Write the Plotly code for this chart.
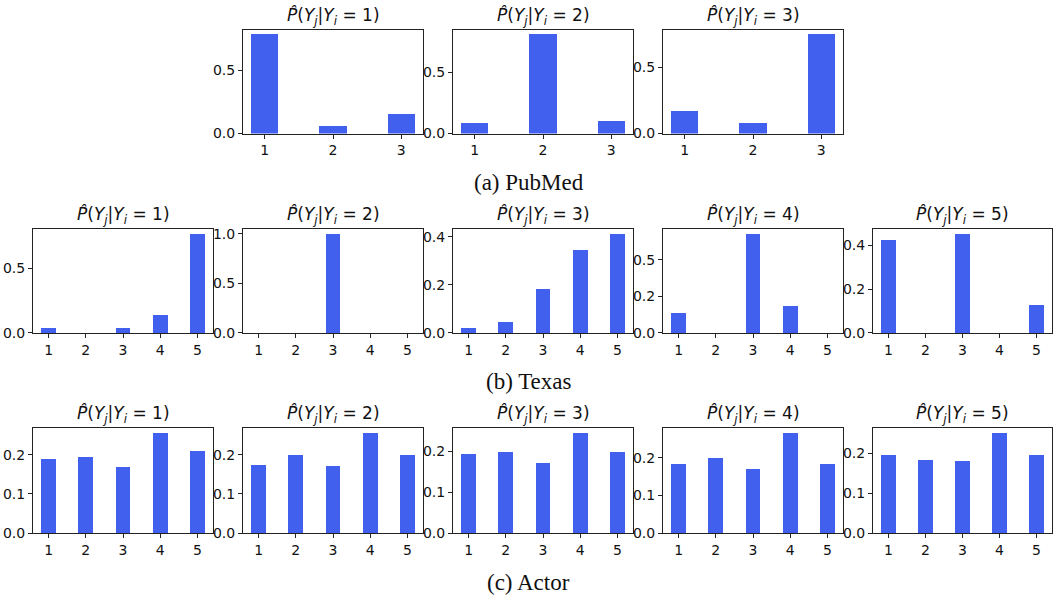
import plotly.graph_objects as go

# ---- data ----
pubmed_classes = [1, 2, 3]
pubmed_rows = [
    [0.785, 0.060, 0.155],
    [0.087, 0.810, 0.103],
    [0.174, 0.078, 0.748],
]
texas_classes = [1, 2, 3, 4, 5]
texas_rows = [
    [0.038, 0.0, 0.038, 0.135, 0.769],
    [0.0, 0.0, 1.0, 0.0, 0.0],
    [0.020, 0.045, 0.184, 0.343, 0.412],
    [0.134, 0.0, 0.679, 0.182, 0.0],
    [0.425, 0.0, 0.452, 0.0, 0.125],
]
actor_classes = [1, 2, 3, 4, 5]
actor_rows = [
    [0.190, 0.195, 0.168, 0.255, 0.210],
    [0.173, 0.200, 0.170, 0.255, 0.200],
    [0.194, 0.198, 0.172, 0.244, 0.198],
    [0.183, 0.201, 0.170, 0.266, 0.183],
    [0.196, 0.184, 0.181, 0.250, 0.196],
]
captions = ["(a) PubMed", "(b) Texas", "(c) Actor"]

# ---- layout geometry (pixels) ----
W, H = 1053, 604
col_px = [(33, 213), (243, 423), (453, 633), (663, 843), (873, 1052)]
row_px = [(27, 133), (230, 336), (433, 540)]
caption_y_px = [183, 386, 590]
BAR_COLOR = "#4160EE"


def nice_ticks(top):
    for step in [0.1, 0.2, 0.25, 0.5, 1.0]:
        if top / step <= 3.0:
            break
    vals = []
    v = 0.0
    while v <= top + 1e-9:
        vals.append(round(v, 4))
        v += step
    return vals, ["%.1f" % t for t in vals]


fig = go.Figure()
panel_specs = []
for r, (classes, rows) in enumerate([(pubmed_classes, pubmed_rows),
                                     (texas_classes, texas_rows),
                                     (actor_classes, actor_rows)]):
    start_col = 1 if len(classes) == 3 else 0
    for k, vals in enumerate(rows):
        panel_specs.append((r, start_col + k, classes, vals, k + 1))

annotations = []
for idx, (r, c, classes, vals, cond) in enumerate(panel_specs):
    n = idx + 1
    xa = "x" if n == 1 else f"x{n}"
    ya = "y" if n == 1 else f"y{n}"
    fig.add_trace(go.Bar(x=classes, y=vals, width=0.4, marker_color=BAR_COLOR,
                         marker_line_width=0, xaxis=xa, yaxis=ya, showlegend=False))
    x0, x1 = col_px[c]
    t0, t1 = row_px[r]
    xdom = [x0 / W, x1 / W]
    ydom = [1 - t1 / H, 1 - t0 / H]
    ncls = len(classes)
    span = (ncls + 0.2) - 0.8
    xr = [0.8 - 0.05 * span, ncls + 0.2 + 0.05 * span]
    ytop = max(vals) * 1.05
    tv, tt = nice_ticks(ytop)
    common = dict(showline=True, mirror=True, linecolor="#222222", linewidth=1,
                  ticks="outside", ticklen=4, tickwidth=1, tickcolor="#222222",
                  showgrid=False, zeroline=False,
                  tickfont=dict(family="DejaVu Sans", size=14, color="#111111"))
    suffix = "" if n == 1 else str(n)
    fig.update_layout(**{
        f"xaxis{suffix}": dict(domain=xdom, anchor=ya, range=xr, tickmode="array",
                               tickvals=classes, ticktext=[str(v) for v in classes],
                               fixedrange=True, **common),
        f"yaxis{suffix}": dict(domain=ydom, anchor=xa, range=[0, ytop], tickmode="array",
                               tickvals=tv, ticktext=tt, fixedrange=True, **common),
    })
    annotations.append(dict(
        text=f"<i>P̂</i>(<i>Y</i><sub><i>j</i></sub>|<i>Y</i><sub><i>i</i></sub> = {cond})",
        x=(xdom[0] + xdom[1]) / 2, y=ydom[1], xref="paper", yref="paper",
        xanchor="center", yanchor="bottom", yshift=0, showarrow=False,
        font=dict(family="DejaVu Sans", size=17, color="#111111")))

for cap, cy in zip(captions, caption_y_px):
    annotations.append(dict(text=cap, x=0.502, y=1 - cy / H, xref="paper", yref="paper",
                            xanchor="center", yanchor="middle", showarrow=False,
                            font=dict(family="Liberation Serif", size=23, color="#111111")))

fig.update_layout(width=W, height=H, margin=dict(l=0, r=0, t=0, b=0),
                  paper_bgcolor="white", plot_bgcolor="white",
                  annotations=annotations, bargap=0, hovermode=False)
fig.write_html("out.html", config={"displayModeBar": False, "staticPlot": True},
               post_script="document.body.style.margin='0';document.body.style.overflow='hidden';")
